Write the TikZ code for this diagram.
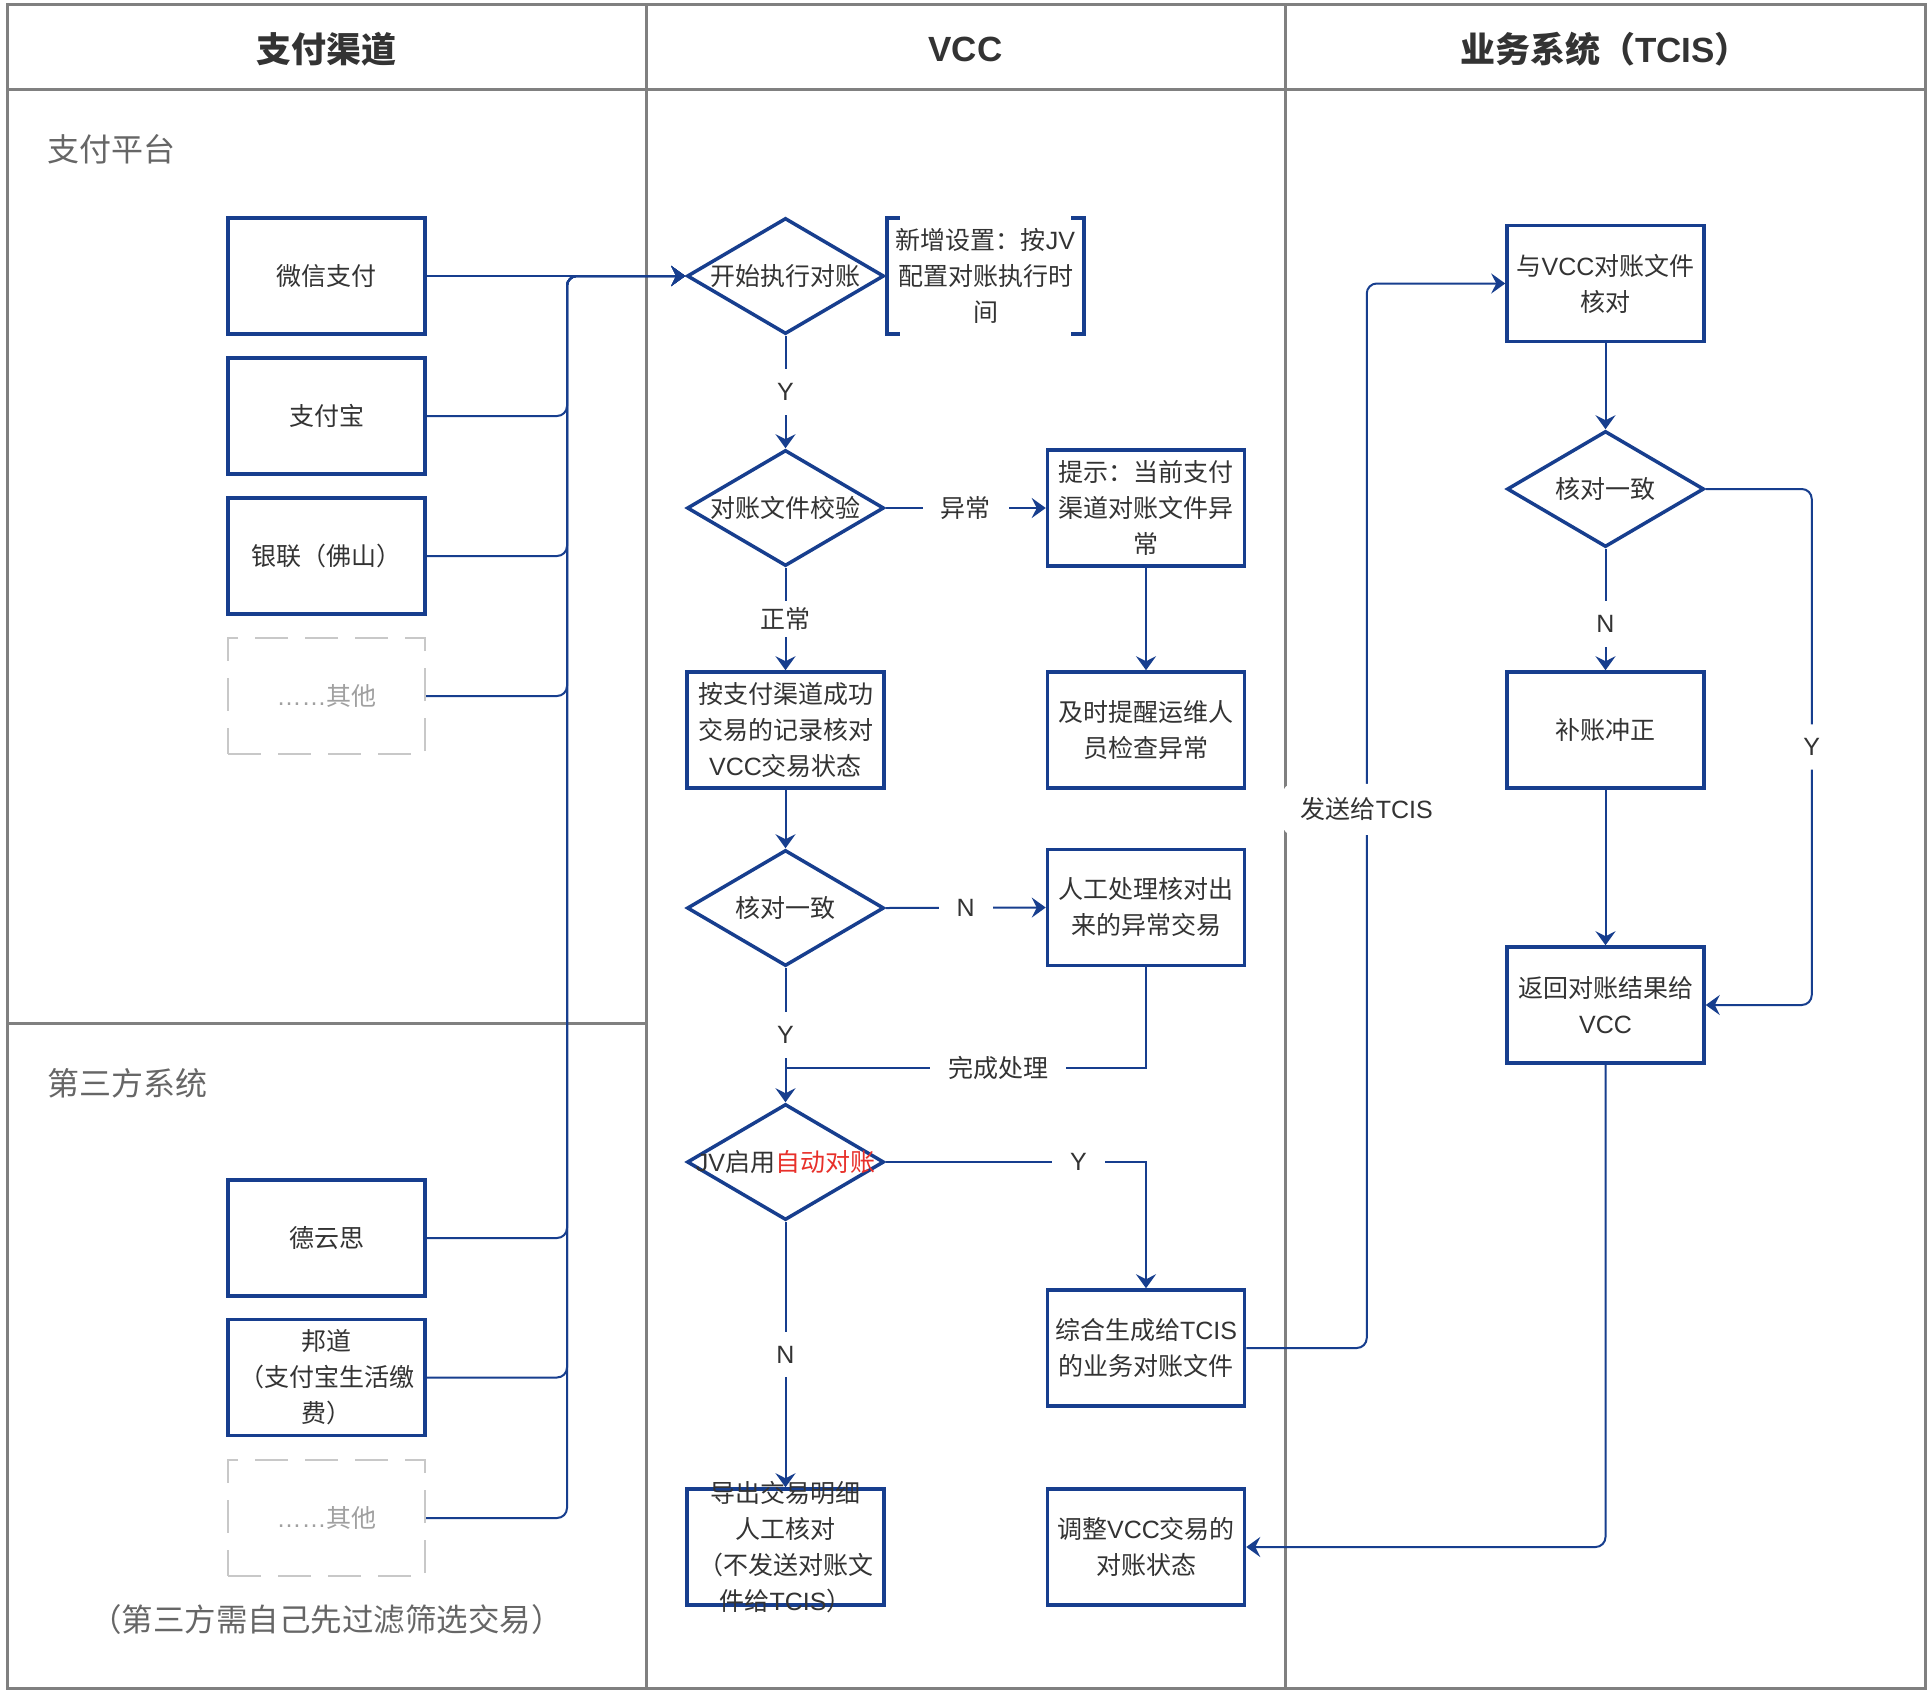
\documentclass[tikz,border=0pt]{standalone}
\usepackage{fontspec}
\setmainfont{Noto Sans CJK SC}
\newfontfamily\latinfont{Liberation Sans}
\newcommand{\enx}[1]{{\latinfont #1}}
\usetikzlibrary{arrows.meta,shapes.geometric,calc}

\definecolor{flow}{HTML}{173E8E}
\definecolor{ink}{HTML}{333333}
\definecolor{lanegray}{HTML}{808080}
\definecolor{tag}{HTML}{666666}
\definecolor{ghost}{HTML}{C8C8C8}
\definecolor{ghosttext}{HTML}{A0A0A0}
\definecolor{hot}{HTML}{E8302A}

\tikzset{
  body/.style={font=\fontsize{25}{36}\selectfont},
  box/.style={draw=flow, line width=3.5pt, minimum width=197pt, minimum height=116pt,
    inner sep=0pt, align=center, fill=white, text=ink, body},
  ghostbox/.style={draw=ghost, line width=2pt, dash pattern=on 33pt off 17pt,
    minimum width=197pt, minimum height=116pt, inner sep=0pt, text=ghosttext, body},
  dia/.style={diamond, draw=flow, line width=3.5pt, minimum width=197pt,
    minimum height=116pt, inner sep=0pt, fill=white},
  diatext/.style={inner sep=0pt, text=ink, body, align=center},
  wire/.style={draw=flow, line width=2pt},
  conn/.style={wire, -{Stealth[length=14pt,width=20pt,inset=5pt]}},
  lbl/.style={fill=white, inner xsep=18pt, inner ysep=14pt, text=ink, body},
  lanetitle/.style={text=ink, font=\fontsize{35}{40}\selectfont\bfseries},
  pooltitle/.style={text=tag, inner sep=0pt, anchor=west, font=\fontsize{32}{36}\selectfont},
  swim/.style={draw=lanegray, line width=3pt},
}

\begin{document}
\begin{tikzpicture}[x=1pt, y=-1pt]
\useasboundingbox[fill=white] (0,0) rectangle (1932,1694);

% swimlane frame
\draw[swim] (7,5) rectangle (1925,1688);
\draw[swim] (7,89) -- (1925,89);
\draw[swim] (646,5) -- (646,1688);
\draw[swim] (1285,5) -- (1285,1688);
\draw[swim] (7,1023) -- (646,1023);

% lane headers
\node[lanetitle] (h1) at (326.5,49) {支付渠道};
\node[lanetitle] (h2) at (965.5,49) {\enx{VCC}};
\node[lanetitle] (h3) at (1605,49) {业务系统（\enx{TCIS}）};

% pools in the channel lane
\node[pooltitle] (p1) at (47,149) {支付平台};
\node[pooltitle] (p2) at (47,1083) {第三方系统};
\node[text=tag, inner sep=0pt, font=\fontsize{31.5}{36}\selectfont] (p2note) at (326.5,1620)
  {（第三方需自己先过滤筛选交易）};

% payment channels
\node[box] (wx) at (326.5,276) {微信支付};
\node[box] (zfb) at (326.5,416) {支付宝};
\node[box] (yl) at (326.5,556) {银联（佛山）};
\node[ghostbox] (qt1) at (326.5,696) {\enx{……}其他};
\node[box] (dys) at (326.5,1238) {德云思};
\node[box] (bd) at (326.5,1377.5) {邦道\\（支付宝生活缴\\费）};
\node[ghostbox] (qt2) at (326.5,1518) {\enx{……}其他};

% VCC lane
\node[dia] (start) at (785.5,276) {};
\node[diatext] (start-t) at (start) {开始执行对账};
\node[inner sep=0pt, minimum width=197pt, minimum height=116pt, align=center, text=ink, body]
  (memo) at (985.5,276) {新增设置：按\enx{JV}\\配置对账执行时\\间};
\draw[flow, line width=3.5pt] ([xshift=13pt]memo.north west) -- (memo.north west)
  -- (memo.south west) -- ([xshift=13pt]memo.south west);
\draw[flow, line width=3.5pt] ([xshift=-13pt]memo.north east) -- (memo.north east)
  -- (memo.south east) -- ([xshift=-13pt]memo.south east);

\node[dia] (chk) at (785.5,508) {};
\node[diatext] (chk-t) at (chk) {对账文件校验};
\node[box] (tip) at (1146,508) {提示：当前支付\\渠道对账文件异\\常};
\node[box] (ops) at (1146,730) {及时提醒运维人\\员检查异常};
\node[box] (match) at (785.5,730) {按支付渠道成功\\交易的记录核对\\\enx{VCC}交易状态};
\node[dia] (same) at (785.5,908) {};
\node[diatext] (same-t) at (same) {核对一致};
\node[box] (manual) at (1146,907.5) {人工处理核对出\\来的异常交易};
\node[dia] (auto) at (785.5,1162) {};
\node[diatext] (auto-t) at (auto) {\enx{JV}启用\textcolor{hot}{自动对账}};
\node[box] (gen) at (1146,1348) {综合生成给\enx{TCIS}\\的业务对账文件};
\node[box] (export) at (785.5,1547) {};
\node[diatext] (export-t) at (export) {导出交易明细\\人工核对\\（不发送对账文\\件给\enx{TCIS}）};
\node[box] (adjust) at (1146,1547) {调整\enx{VCC}交易的\\对账状态};

% TCIS lane
\node[box] (recv) at (1605.5,283.5) {与\enx{VCC}对账文件\\核对};
\node[dia] (same2) at (1605.5,489) {};
\node[diatext] (same2-t) at (same2) {核对一致};
\node[box] (fix) at (1605.5,730) {补账冲正};
\node[box] (back) at (1605.5,1005) {返回对账结果给\\\enx{VCC}};

% channels feed the reconciliation start
\coordinate (bus) at (567,276);
\draw[conn] (wx.east) -- (start.west);
\foreach \src in {zfb,yl,qt1,dys,bd,qt2}
  \draw[conn, rounded corners=10pt] (\src.east) -| (bus) -- (start.west);

% VCC flow
\draw[conn] (start.south) -- node[lbl] (l-y1) {\enx{Y}} (chk.north);
\draw[conn] (chk.east) -- node[lbl] (l-err) {异常} (tip.west);
\draw[conn] (tip.south) -- (ops.north);
\draw[conn] (chk.south) -- node[lbl, inner ysep=6pt] (l-ok) {正常} (match.north);
\draw[conn] (match.south) -- (same.north);
\draw[conn] (same.east) -- node[lbl] (l-n1) {\enx{N}} (manual.west);
\draw[conn] (same.south) -- node[lbl] (l-y2) {\enx{Y}} (auto.north);
\coordinate (merge) at (785.5,1068);
\draw[wire] (manual.south) |- node[lbl, pos=0.705] (l-done) {完成处理} (merge);
\draw[conn] (auto.east) -| node[lbl, pos=0.37] (l-y3) {\enx{Y}} (gen.north);
\draw[conn] (auto.south) -- node[lbl] (l-n2) {\enx{N}} (export.north);
\draw[conn, rounded corners=10pt] (gen.east) -- ++(120.5,0)
  |- node[lbl, pos=0.253] (l-send) {发送给\enx{TCIS}} (recv.west);

% TCIS flow
\draw[conn] (recv.south) -- (same2.north);
\draw[conn] (same2.south) -- node[lbl, pos=0.62] (l-n3) {\enx{N}} (fix.north);
\draw[conn] (fix.south) -- (back.north);
\draw[conn, rounded corners=10pt] (same2.east) -- ++(106,0)
  |- node[lbl, pos=0.25] (l-y4) {\enx{Y}} (back.east);
\draw[conn, rounded corners=10pt] (back.south) |- (adjust.east);
\end{tikzpicture}
\end{document}
